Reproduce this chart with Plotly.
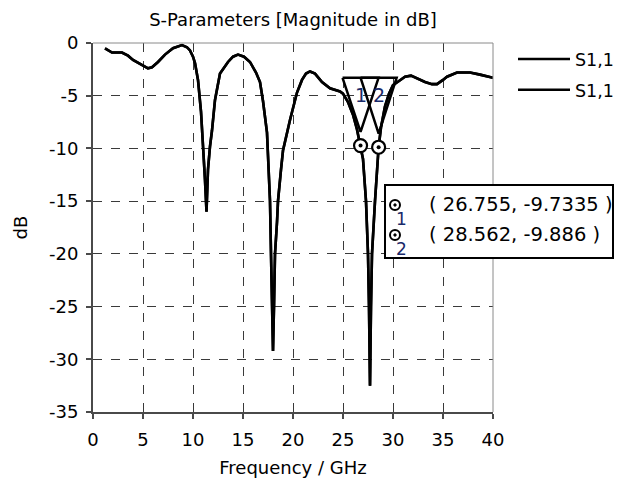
import plotly.graph_objects as go

# ---- data ----
freq_ghz = [1.2, 1.9, 2.9, 3.5, 4.0, 4.8, 5.5, 5.9, 6.5, 7.2, 8.0, 8.9, 9.4, 9.7, 10.0, 10.2,
            10.5, 10.8, 11.0, 11.2, 11.35, 11.5, 11.7, 11.9, 12.2, 12.7, 13.5, 14.0, 14.5,
            15.1, 15.7, 16.3, 16.7, 17.0, 17.4, 17.6, 17.7, 17.8, 17.9, 18.0, 18.1, 18.2,
            18.4, 18.5, 18.8, 19.0, 19.7, 20.4, 20.9, 21.3, 21.7, 22.2, 22.9, 23.7, 24.7,
            25.0, 25.5, 26.0, 26.4, 26.755, 27.0, 27.3, 27.5, 27.6, 27.7, 27.8, 27.9, 28.2,
            28.4, 28.562, 28.8, 29.2, 29.6, 30.0, 30.6, 31.2, 31.8, 32.5, 33.2, 33.9, 34.4,
            35.0, 35.4, 36.4, 37.7, 38.7, 40.0]
s11_db = [-0.5, -0.9, -0.9, -1.2, -1.6, -2.0, -2.4, -2.3, -1.8, -1.1, -0.5, -0.2, -0.4, -0.7, -1.3, -1.9,
          -3.5, -6.5, -9.5, -13.0, -16.0, -12.0, -9.8, -8.3, -5.4, -2.9, -1.8, -1.3, -1.1,
          -1.3, -1.8, -2.8, -3.7, -5.5, -8.5, -12.0, -15.0, -20.0, -25.0, -29.2, -25.0, -20.0,
          -17.0, -15.0, -12.0, -10.2, -7.3, -4.7, -3.5, -2.9, -2.7, -2.9, -3.7, -4.3, -4.6,
          -4.8, -5.6, -6.8, -8.2, -9.7335, -11.0, -15.0, -20.0, -25.0, -32.5, -25.0, -20.0, -15.0,
          -12.0, -9.886, -8.0, -6.0, -4.8, -4.0, -3.6, -3.2, -3.1, -3.4, -3.7, -3.9, -3.9,
          -3.5, -3.2, -2.8, -2.8, -3.0, -3.3]
marker_ids = ["1", "2"]
marker_f = [26.755, 28.562]
marker_db = [-9.7335, -9.886]
trace_names = ["S1,1", "S1,1"]
x_ticks = [0, 5, 10, 15, 20, 25, 30, 35, 40]
y_ticks = [0, -5, -10, -15, -20, -25, -30, -35]

FONT = "DejaVu Sans"
FS = 18
W, H = 619, 481
L, R, T, B = 93, 493, 43, 412  # plot area in pixels


def px(xp):
    return (xp - L) / (R - L)


def py(yp):
    return (B - yp) / (B - T)


fig = go.Figure()

for i, nm in enumerate(trace_names):
    fig.add_trace(go.Scatter(x=freq_ghz, y=s11_db, mode="lines", name=nm,
                             line=dict(color="black", width=2.6),
                             legendgroup=f"g{i}"))

# marker triangles
for mid, mf, md in zip(marker_ids, marker_f, marker_db):
    top = -3.3
    fig.add_trace(go.Scatter(x=[mf - 1.8, mf, mf + 1.8, mf - 1.8],
                             y=[top, md + 1.3, top, top], mode="lines",
                             line=dict(color="black", width=2.5), showlegend=False,
                             hoverinfo="skip"))
    fig.add_annotation(x=mf + 0.05, y=-4.9, text=mid, showarrow=False,
                       font=dict(family=FONT, size=19, color="#1a2a6a"))

# marker circles
fig.add_trace(go.Scatter(x=marker_f, y=marker_db, mode="markers", showlegend=False,
                         marker=dict(symbol="circle", size=13, color="white",
                                     line=dict(color="black", width=2.2))))
fig.add_trace(go.Scatter(x=marker_f, y=marker_db, mode="markers", showlegend=False,
                         marker=dict(symbol="circle", size=4, color="black")))

shapes = []
# top/right frame
shapes.append(dict(type="line", xref="paper", yref="paper", x0=0, x1=1, y0=1, y1=1,
                   line=dict(color="#8a8a8a", width=1)))
shapes.append(dict(type="line", xref="paper", yref="paper", x0=1, x1=1, y0=0, y1=1,
                   line=dict(color="#8a8a8a", width=1)))
# marker readout box
shapes.append(dict(type="rect", xref="paper", yref="paper", x0=px(385), x1=px(613),
                   y0=py(258), y1=py(185), line=dict(color="black", width=2),
                   fillcolor="white", layer="above"))
rows_y = [205, 235]
for mid, mf, md, ry in zip(marker_ids, marker_f, marker_db, rows_y):
    r = 5
    shapes.append(dict(type="circle", xref="paper", yref="paper",
                       x0=px(395 - r), x1=px(395 + r), y0=py(ry + r), y1=py(ry - r),
                       line=dict(color="black", width=2), fillcolor="white", layer="above"))
    shapes.append(dict(type="circle", xref="paper", yref="paper",
                       x0=px(393.8), x1=px(396.2), y0=py(ry + 1.2), y1=py(ry - 1.2),
                       line=dict(color="black", width=1), fillcolor="black", layer="above"))
    fig.add_annotation(xref="paper", yref="paper", x=px(401), y=py(ry + 14), text=mid,
                       showarrow=False, xanchor="center", yanchor="middle",
                       font=dict(family=FONT, size=17, color="#1a2a6a"))
    fig.add_annotation(xref="paper", yref="paper", x=px(427), y=py(ry),
                       text=f"( {mf:g}, {md:g} )", showarrow=False,
                       xanchor="left", yanchor="middle",
                       font=dict(family=FONT, size=19.5, color="black"))

axis_common = dict(showgrid=True, gridcolor="#3a3a3a", griddash="dash", gridwidth=1,
                   showline=True, linecolor="#4a4a4a", linewidth=2, automargin=False,
                   ticks="outside", ticklen=5, tickcolor="#4a4a4a", tickwidth=1.5,
                   zeroline=False, tickfont=dict(family=FONT, size=FS, color="black"))

fig.update_layout(
    width=W, height=H, autosize=False,
    margin=dict(l=L, r=W - R, t=T, b=H - B, pad=0, autoexpand=False),
    paper_bgcolor="white", plot_bgcolor="white",
    title=dict(text="S-Parameters [Magnitude in dB]", x=0.5, xref="paper",
               y=1 - 20 / H, yref="container", yanchor="middle", xanchor="center",
               font=dict(family=FONT, size=FS, color="black")),
    xaxis=dict(range=[0, 40], tickvals=x_ticks, ticktext=[str(v) for v in x_ticks],
               ticklabelstandoff=5,
               title=dict(text="Frequency / GHz", standoff=13,
                          font=dict(family=FONT, size=FS, color="black")),
               **axis_common),
    yaxis=dict(range=[-35, 0], tickvals=y_ticks, ticktext=[str(v) for v in y_ticks],
               ticklabelstandoff=4,
               title=dict(text="dB", standoff=17,
                          font=dict(family=FONT, size=FS, color="black")),
               **axis_common),
    legend=dict(x=1.05, y=1.005, xanchor="left", yanchor="top",
                font=dict(family=FONT, size=FS - 0.5, color="black"),
                bgcolor="rgba(0,0,0,0)", tracegroupgap=5, itemwidth=52),
    shapes=shapes,
    showlegend=True,
)

fig.write_html("out.html")
